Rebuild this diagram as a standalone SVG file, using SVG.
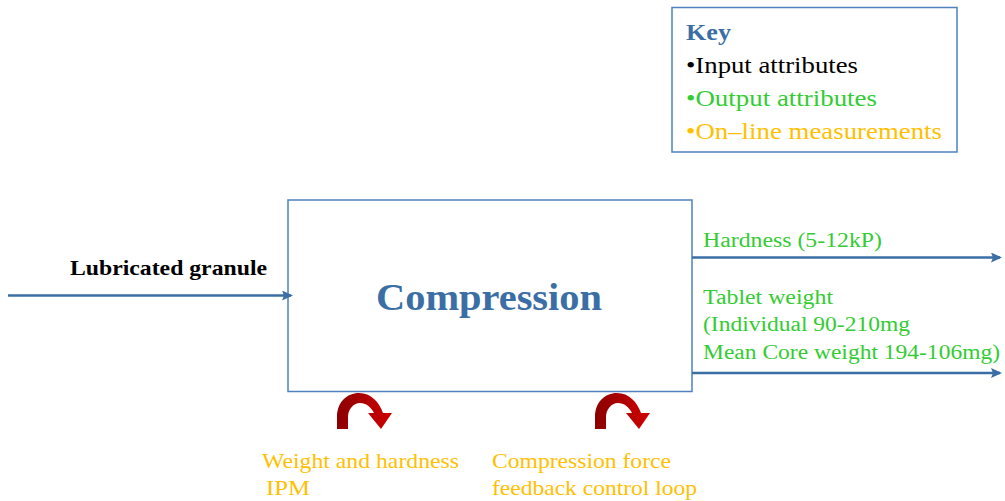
<svg xmlns="http://www.w3.org/2000/svg" width="1005" height="501" viewBox="0 0 1005 501">
<style>
.serif{font-family:"Liberation Serif","Times New Roman",serif}
.green{fill:#33CC33;font-size:20px}
.orange{fill:#FFC000;font-size:21px}
.conn{stroke:#3A6EA5;stroke-width:2.5;fill:none}
</style>
<defs>
<marker id="ah" markerWidth="11" markerHeight="10" refX="9" refY="5" orient="auto" markerUnits="userSpaceOnUse">
<path d="M0,0 L11,5 L0,10 L2,5 Z" fill="#3A6EA5"/>
</marker>
<linearGradient id="red" x1="0" y1="0" x2="1" y2="0">
<stop offset="0" stop-color="#8B0000"/>
<stop offset="1" stop-color="#D00000"/>
</linearGradient>
<path id="curl" d="M0,36 L0,24 C0,9 10,0 22,0 C34,0 42,9 46,20 L55,20 L44,36 L31,20 L37,20 C34,14 29,10 23,10 C16,10 11,17 11,24 L11,36 Z" fill="url(#red)"/>
</defs>
<rect width="1005" height="501" fill="#fff"/>
<g id="key">
<rect x="672" y="7.5" width="285" height="144.5" fill="#fff" stroke="#4F81BD" stroke-width="1.5"/>
<text x="686" y="40" class="serif" font-size="23" font-weight="bold" fill="#3A6EA5" textLength="45" lengthAdjust="spacingAndGlyphs">Key</text>
<text x="686" y="73" class="serif" font-size="23" fill="#000" textLength="172" lengthAdjust="spacingAndGlyphs">•Input attributes</text>
<text x="686" y="106" class="serif" font-size="23" fill="#33CC33" textLength="191" lengthAdjust="spacingAndGlyphs">•Output attributes</text>
<text x="686" y="139" class="serif" font-size="23" fill="#FFC000" textLength="256" lengthAdjust="spacingAndGlyphs">•On–line measurements</text>
</g>
<g id="compression">
<rect x="288" y="200" width="404" height="191.5" fill="#fff" stroke="#4F81BD" stroke-width="1.5"/>
<text x="376" y="310" class="serif" font-size="38" font-weight="bold" fill="#3A6EA5" textLength="226" lengthAdjust="spacingAndGlyphs">Compression</text>
</g>
<g id="connectors">
<line class="conn" x1="8" y1="295.5" x2="291" y2="295.5" marker-end="url(#ah)"/>
<line class="conn" x1="692" y1="257.5" x2="1000" y2="257.5" marker-end="url(#ah)"/>
<line class="conn" x1="692" y1="373" x2="1000" y2="373" marker-end="url(#ah)"/>
</g>
<g id="input-label">
<text x="70" y="275" class="serif" font-size="21" font-weight="bold" fill="#000" textLength="197" lengthAdjust="spacingAndGlyphs">Lubricated granule</text>
</g>
<g id="output-labels" class="serif">
<text x="703" y="247" class="green" textLength="179" lengthAdjust="spacingAndGlyphs">Hardness (5-12kP)</text>
<text x="703" y="304" class="green" textLength="130" lengthAdjust="spacingAndGlyphs">Tablet weight</text>
<text x="703" y="331" class="green" textLength="207" lengthAdjust="spacingAndGlyphs">(Individual 90-210mg</text>
<text x="703" y="359" class="green" textLength="297" lengthAdjust="spacingAndGlyphs">Mean Core weight 194-106mg)</text>
</g>
<g id="ipm">
<use href="#curl" x="337" y="393"/>
<text x="262" y="468" class="serif orange" textLength="197" lengthAdjust="spacingAndGlyphs">Weight and hardness</text>
<text x="266" y="495" class="serif orange" textLength="44" lengthAdjust="spacingAndGlyphs">IPM</text>
</g>
<g id="feedback">
<use href="#curl" x="595" y="393"/>
<text x="492" y="468" class="serif orange" textLength="179" lengthAdjust="spacingAndGlyphs">Compression force</text>
<text x="492" y="495" class="serif orange" textLength="205" lengthAdjust="spacingAndGlyphs">feedback control loop</text>
</g>
</svg>
